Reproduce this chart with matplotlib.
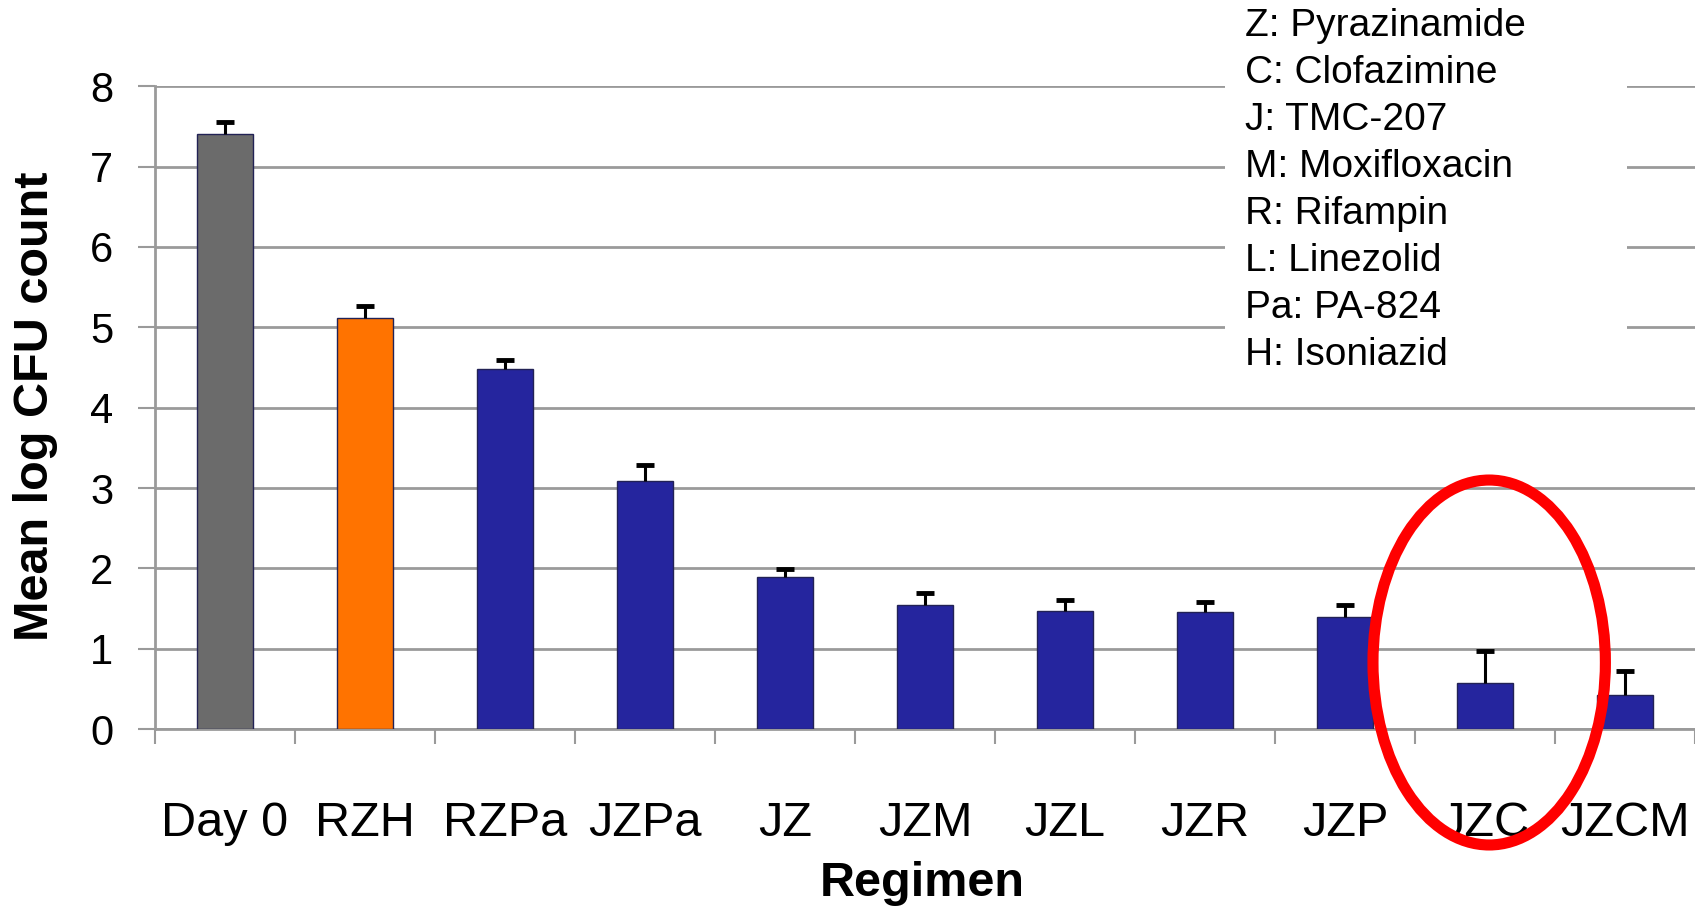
import numpy as np
import matplotlib
matplotlib.use('Agg')
import matplotlib.pyplot as plt
from matplotlib.patches import Ellipse, Rectangle

plt.rcParams['font.family'] = ['Liberation Sans', 'DejaVu Sans']

# data
regimens = ['Day 0', 'RZH', 'RZPa', 'JZPa', 'JZ', 'JZM', 'JZL', 'JZR', 'JZP', 'JZC', 'JZCM']
mean_cfu = [7.41, 5.12, 4.48, 3.09, 1.89, 1.54, 1.47, 1.46, 1.39, 0.57, 0.43]
err_cfu = [0.15, 0.15, 0.11, 0.20, 0.10, 0.16, 0.14, 0.12, 0.15, 0.40, 0.30]
bar_colors = ['#6b6b6b', '#ff7300'] + ['#25259e'] * 9
drug_key = ['Z: Pyrazinamide', 'C: Clofazimine', 'J: TMC-207', 'M: Moxifloxacin',
            'R: Rifampin', 'L: Linezolid', 'Pa: PA-824', 'H: Isoniazid']

fig = plt.figure(figsize=(16.95, 9.07), dpi=100)
ax = fig.add_axes([0.0914, 0.196, 0.9086, 0.709])

x = np.arange(len(regimens))
means = np.array(mean_cfu)
tops = means + np.array(err_cfu)
ax.bar(x, means, width=0.4, color=bar_colors, edgecolor='#222255', linewidth=1, zorder=3)
# upper error bars only, no cap at the bar top
ax.vlines(x, means, tops, color='black', linewidth=2.2, zorder=4)
ax.plot(x, tops, linestyle='none', marker='_', markersize=13, markeredgewidth=3.5,
        color='black', zorder=4)

ax.set_xlim(-0.5, 10.5)
ax.set_ylim(0, 8)
ax.set_yticks(range(9))
ax.yaxis.grid(True, color='#9a9a9a', linewidth=2)
ax.set_axisbelow(True)

for s in ['top', 'right']:
    ax.spines[s].set_visible(False)
for s in ['left', 'bottom']:
    ax.spines[s].set_color('#9a9a9a')
    ax.spines[s].set_linewidth(2)

ax.set_xticks(x, regimens)
ax.set_xticks(np.arange(-0.5, 11), minor=True)
ax.tick_params(axis='x', which='major', length=0, pad=52, labelsize=35)
ax.tick_params(axis='x', which='minor', length=11, width=1.5, color='#9a9a9a', direction='out')
ax.tick_params(axis='y', length=12, width=1.5, color='#9a9a9a', direction='out', pad=18, labelsize=30)

fig.text(36 / 1695, 1 - 406 / 907, 'Mean log CFU count', rotation=90, fontsize=35,
         fontweight='bold', ha='center', va='center')
fig.text(922 / 1695, 1 - 884 / 907, 'Regimen', fontsize=35, fontweight='bold',
         ha='center', va='center')

# white box behind the drug key
fig.patches.append(Rectangle((1225 / 1695, 1 - 385 / 907), 402 / 1695, 385 / 907,
                             transform=fig.transFigure, facecolor='white', edgecolor='none', zorder=2))
fig.text(1245 / 1695, 1 - 8 / 907, '\n'.join(drug_key), fontsize=28, ha='left', va='top',
         linespacing=1.395, zorder=3)

ax.add_patch(Ellipse((9.03, 0.83), 1.66, 4.54, fill=False, edgecolor='#ff0000', linewidth=8,
                     clip_on=False, zorder=5))

plt.savefig('out.png')
